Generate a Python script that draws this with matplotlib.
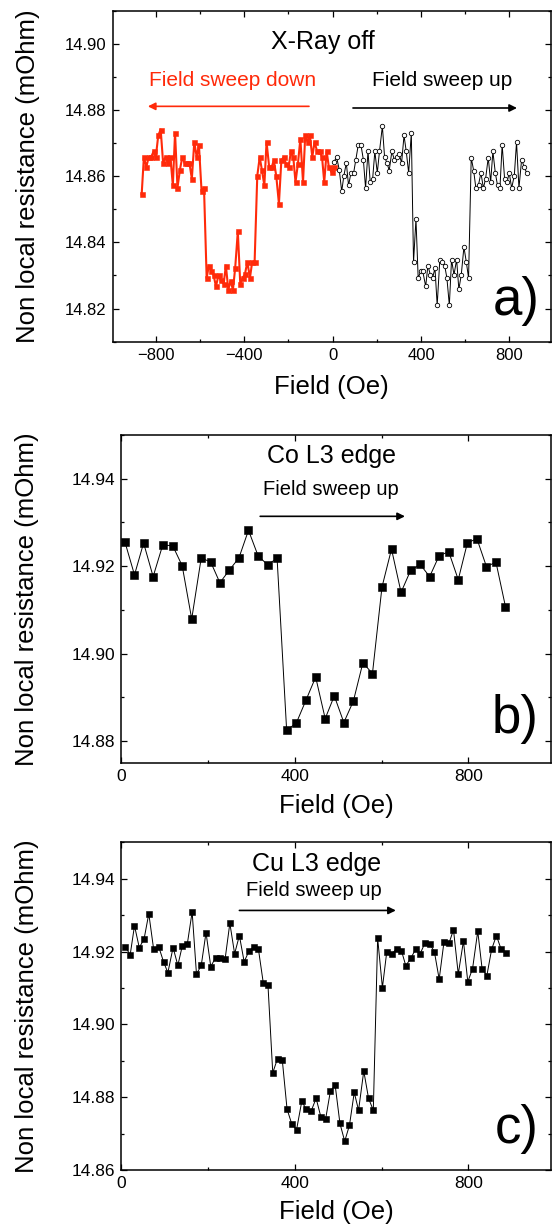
import matplotlib
matplotlib.use('Agg')
import matplotlib.pyplot as plt
from matplotlib.ticker import MultipleLocator, FormatStrFormatter

plt.rcParams['font.family'] = ['Liberation Sans', 'DejaVu Sans']

# panel a) X-ray off, sweep down (red) and sweep up (black)
down_field = [-864, -854, -843, -832, -821, -810, -800, -789, -778, -767,
              -756, -745, -734, -723, -713, -702, -691, -680, -670, -659,
              -648, -637, -626, -615, -605, -593, -582, -570, -560, -549,
              -539, -528, -516, -506, -493, -483, -472, -462, -451, -441,
              -429, -418, -407, -397, -386, -374, -364, -353, -341, -330,
              -320, -309, -299, -287, -276, -266, -255, -243, -232, -222,
              -211, -199, -189, -178, -168, -157, -146, -134, -124, -113,
              -103, -92, -82, -70, -59, -48, -38, -27, -17, -5, 6]
down_res = [14.8545, 14.8658, 14.8628, 14.8658, 14.8658, 14.8675, 14.8658, 14.8723, 14.8741, 14.8640,
            14.8658, 14.8640, 14.8658, 14.8572, 14.8731, 14.8565, 14.8619, 14.8658, 14.8640, 14.8640,
            14.8640, 14.8592, 14.8703, 14.8658, 14.8695, 14.8554, 14.8565, 14.8292, 14.8330, 14.8315,
            14.8302, 14.8267, 14.8302, 14.8285, 14.8275, 14.8330, 14.8257, 14.8283, 14.8257, 14.8322,
            14.8433, 14.8275, 14.8293, 14.8303, 14.8341, 14.8293, 14.8341, 14.8341, 14.8601, 14.8657,
            14.8619, 14.8572, 14.8703, 14.8627, 14.8627, 14.8648, 14.8600, 14.8517, 14.8648, 14.8657,
            14.8638, 14.8627, 14.8675, 14.8657, 14.8582, 14.8638, 14.8713, 14.8582, 14.8723, 14.8703,
            14.8723, 14.8658, 14.8703, 14.8675, 14.8675, 14.8658, 14.8582, 14.8675, 14.8627, 14.8612, 14.8627]

up_field = [6, 18, 30, 41, 51, 62, 72, 83, 95, 105,
            116, 128, 139, 149, 160, 170, 181, 191, 202, 212,
            225, 235, 246, 256, 268, 279, 289, 301, 312, 323,
            333, 344, 356, 366, 377, 387, 398, 408, 421, 431,
            442, 452, 463, 473, 485, 496, 507, 517, 528, 538,
            549, 561, 571, 582, 594, 605, 615, 627, 638, 648,
            660, 671, 682, 692, 704, 715, 725, 736, 746, 757,
            767, 778, 789, 799, 810, 822, 832, 843, 855, 866, 878]
up_res = [14.8643, 14.8658, 14.8619, 14.8554, 14.8602, 14.8640, 14.8572, 14.8610, 14.8610, 14.8650,
          14.8695, 14.8695, 14.8650, 14.8564, 14.8675, 14.8582, 14.8592, 14.8675, 14.8610, 14.8675,
          14.8751, 14.8658, 14.8640, 14.8617, 14.8675, 14.8650, 14.8658, 14.8667, 14.8640, 14.8723,
          14.8675, 14.8610, 14.8731, 14.8340, 14.8471, 14.8292, 14.8312, 14.8312, 14.8267, 14.8330,
          14.8302, 14.8292, 14.8322, 14.8210, 14.8348, 14.8340, 14.8330, 14.8292, 14.8210, 14.8348,
          14.8302, 14.8348, 14.8258, 14.8302, 14.8386, 14.8340, 14.8292, 14.8656, 14.8617, 14.8564,
          14.8574, 14.8610, 14.8564, 14.8592, 14.8656, 14.8582, 14.8675, 14.8610, 14.8572, 14.8564,
          14.8695, 14.8592, 14.8582, 14.8610, 14.8564, 14.8602, 14.8703, 14.8564, 14.8650, 14.8629, 14.8610]

# panel b) Co L3 edge
co_field = [8, 30, 51, 73, 95, 118, 140, 162, 184, 206,
            227, 249, 271, 293, 315, 337, 359, 381, 403, 426,
            448, 470, 491, 513, 535, 557, 579, 601, 623, 645,
            667, 689, 711, 733, 755, 777, 798, 820, 842, 864, 886]
co_res = [14.9255, 14.9180, 14.9253, 14.9176, 14.9248, 14.9247, 14.9201, 14.9079, 14.9219, 14.9209,
          14.9162, 14.9191, 14.9219, 14.9282, 14.9224, 14.9203, 14.9218, 14.8825, 14.8840, 14.8894,
          14.8946, 14.8851, 14.8903, 14.8842, 14.8891, 14.8979, 14.8954, 14.9152, 14.9239, 14.9140,
          14.9190, 14.9204, 14.9176, 14.9224, 14.9233, 14.9169, 14.9253, 14.9263, 14.9199, 14.9209, 14.9107]

# panel c) Cu L3 edge
cu_field = [9, 20, 30, 41, 52, 63, 74, 86, 97, 107,
            119, 130, 140, 152, 163, 173, 184, 195, 206, 217,
            228, 239, 250, 261, 272, 283, 294, 305, 316, 327,
            338, 349, 360, 371, 382, 393, 404, 416, 426, 438,
            449, 460, 471, 482, 493, 504, 515, 526, 537, 547,
            559, 570, 581, 591, 602, 612, 624, 635, 646, 656,
            668, 679, 689, 700, 712, 722, 733, 744, 756, 766,
            777, 789, 799, 810, 822, 832, 843, 854, 865, 876, 887]
cu_res = [14.9213, 14.9191, 14.9271, 14.9211, 14.9234, 14.9304, 14.9208, 14.9213, 14.9172, 14.9142,
          14.9211, 14.9162, 14.9214, 14.9222, 14.9309, 14.9138, 14.9162, 14.9252, 14.9159, 14.9183,
          14.9181, 14.9179, 14.9278, 14.9194, 14.9244, 14.9172, 14.9201, 14.9213, 14.9206, 14.9115,
          14.9107, 14.8867, 14.8906, 14.8902, 14.8767, 14.8726, 14.8711, 14.8789, 14.8767, 14.8763,
          14.8797, 14.8746, 14.8740, 14.8817, 14.8833, 14.8728, 14.8679, 14.8723, 14.8813, 14.8764,
          14.8872, 14.8797, 14.8764, 14.9237, 14.9101, 14.9199, 14.9194, 14.9208, 14.9202, 14.9161,
          14.9183, 14.9207, 14.9194, 14.9223, 14.9220, 14.9199, 14.9124, 14.9226, 14.9224, 14.9260,
          14.9138, 14.9229, 14.9117, 14.9153, 14.9256, 14.9153, 14.9134, 14.9206, 14.9244, 14.9206, 14.9196]

RED = '#ff2a0a'

fig = plt.figure(figsize=(5.52, 12.29), dpi=100)
ax_a = fig.add_axes([0.2042, 0.7220, 0.7940, 0.2693])
ax_b = fig.add_axes([0.2201, 0.3794, 0.7781, 0.2666])
ax_c = fig.add_axes([0.2201, 0.0480, 0.7781, 0.2666])


def style_axes(ax, xlim, ylim, ticksize, ylab_x, xlab_y):
    ax.set_xlim(*xlim)
    ax.set_ylim(*ylim)
    ax.xaxis.set_major_locator(MultipleLocator(400))
    ax.xaxis.set_minor_locator(MultipleLocator(200))
    ax.yaxis.set_major_locator(MultipleLocator(0.02))
    ax.yaxis.set_minor_locator(MultipleLocator(0.01))
    ax.yaxis.set_major_formatter(FormatStrFormatter('%.2f'))
    ax.tick_params(which='both', direction='in', top=True, right=True, width=0.9)
    ax.tick_params(which='major', length=4.5, labelsize=ticksize, pad=4.5)
    ax.tick_params(which='minor', length=2.5)
    for s in ax.spines.values():
        s.set_linewidth(1.1)
    ax.set_xlabel('Field (Oe)', fontsize=18.5)
    ax.set_ylabel('Non local resistance (mOhm)', fontsize=18.5)
    ax.yaxis.set_label_coords(ylab_x, 0.5)
    ax.xaxis.set_label_coords(0.5, xlab_y)


def arrow(ax, x0, x1, y, color):
    ax.annotate('', xy=(x1, y), xytext=(x0, y),
                arrowprops=dict(arrowstyle='-|>', color=color, lw=1.2,
                                mutation_scale=11, shrinkA=0, shrinkB=0))


# a)
ax_a.plot(down_field, down_res, '-s', color=RED, lw=1.5, ms=3.6, mew=0.4)
ax_a.plot(up_field, up_res, '-o', color='black', lw=0.7, ms=3.2, mew=0.6,
          mfc='white', mec='black')
style_axes(ax_a, (-995, 988), (14.81, 14.91), 12, -0.165, -0.100)
ax_a.text(-44, 14.9004, 'X-Ray off', fontsize=18, ha='center', va='center')
ax_a.text(-451, 14.8889, 'Field sweep down', fontsize=15, color=RED, ha='center', va='center')
ax_a.text(495, 14.8890, 'Field sweep up', fontsize=15, ha='center', va='center')
arrow(ax_a, -107, -836, 14.8811, RED)
arrow(ax_a, 92, 834, 14.8806, 'black')
ax_a.text(0.975, 0.081, 'a)', transform=ax_a.transAxes, fontsize=38,
          ha='right', va='baseline')

# b)
ax_b.plot(co_field, co_res, '-s', color='black', lw=0.7, ms=5.3, mew=0.4)
style_axes(ax_b, (0, 991), (14.875, 14.95), 12.5, -0.193, -0.095)
ax_b.text(485, 14.9451, 'Co L3 edge', fontsize=18, ha='center', va='center')
ax_b.text(484, 14.9376, 'Field sweep up', fontsize=14.5, ha='center', va='center')
arrow(ax_b, 320, 654, 14.9314, 'black')
ax_b.text(0.972, 0.0897, 'b)', transform=ax_b.transAxes, fontsize=38,
          ha='right', va='baseline')

# c)
ax_c.plot(cu_field, cu_res, '-s', color='black', lw=0.7, ms=4.9, mew=0.4)
style_axes(ax_c, (0, 991), (14.86, 14.95), 12.5, -0.191, -0.092)
ax_c.text(449, 14.9441, 'Cu L3 edge', fontsize=18, ha='center', va='center')
ax_c.text(444, 14.9368, 'Field sweep up', fontsize=14.5, ha='center', va='center')
arrow(ax_c, 272, 633, 14.9313, 'black')
ax_c.text(0.972, 0.0815, 'c)', transform=ax_c.transAxes, fontsize=38,
          ha='right', va='baseline')

fig.savefig('out.png', dpi=100)
plt.close(fig)
